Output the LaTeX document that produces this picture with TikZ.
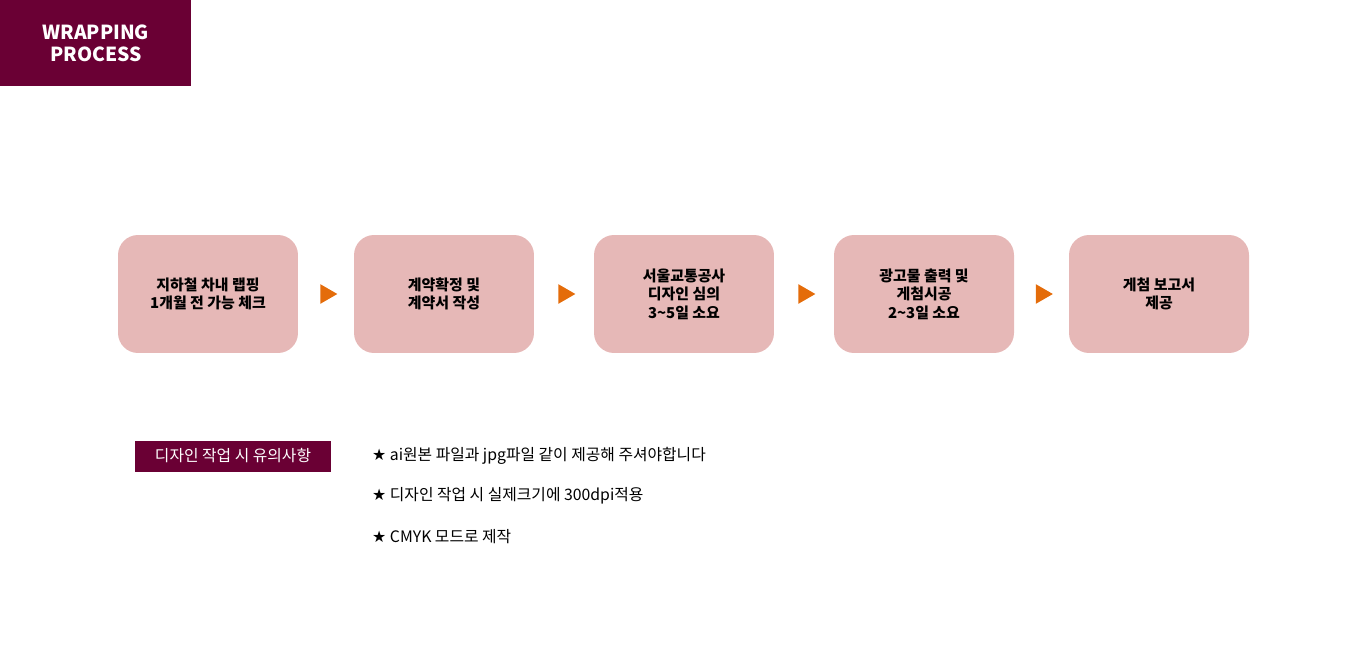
\documentclass[tikz,border=0pt]{standalone}
\usepackage{fontspec}
\setmainfont{Noto Sans CJK KR}
\newfontfamily\symfont{DejaVu Sans}
\usetikzlibrary{shapes.geometric, positioning, calc}
\definecolor{winered}{HTML}{6A0034}
\definecolor{boxpink}{HTML}{E6B8B7}
\definecolor{arroworange}{HTML}{E46C0A}

\begin{document}
\begin{tikzpicture}[
  x=0.02cm, y=-0.02cm,
  stepbox/.style={rectangle, rounded corners=0.4cm, fill=boxpink, minimum width=3.6cm, minimum height=2.36cm, align=center, font=\fontsize{8.5}{10.5}\selectfont\bfseries, inner sep=0pt},
  tri/.style={isosceles triangle, fill=arroworange, minimum height=0.34cm, minimum width=0.38cm, isosceles triangle apex angle=60, inner sep=0pt},
  note/.style={anchor=west, font=\fontsize{9}{11}\selectfont}
]
  \useasboundingbox (0,0) rectangle (1364,655);
  \node[fill=winered, text=white, minimum width=3.82cm, minimum height=1.72cm, anchor=north west, align=center, inner sep=0pt, font=\fontsize{11}{12.5}\selectfont\bfseries] (title) at (0,0) {WRAPPING\\PROCESS};

  \node[stepbox] (s1) at (208,294) {지하철 차내 랩핑\\1개월 전 가능 체크};
  \node[stepbox] (s2) at (444,294) {계약확정 및\\계약서 작성};
  \node[stepbox] (s3) at (684,294) {서울교통공사\\디자인 심의\\3\textasciitilde5일 소요};
  \node[stepbox] (s4) at (924,294) {광고물 출력 및\\게첨시공\\2\textasciitilde3일 소요};
  \node[stepbox] (s5) at (1159,294) {게첨 보고서\\제공};

  \foreach \a/\b in {s1/s2, s2/s3, s3/s4, s4/s5}
    \node[tri] at ($(\a.east)!0.5!(\b.west)$) {};

  \node[fill=winered, text=white, minimum width=3.92cm, minimum height=0.62cm, inner sep=0pt, font=\fontsize{9}{11}\selectfont] (caution) at (233,456) {디자인 작업 시 유의사항};
  \node[note] (n1) at (366,456) {{\symfont ★} ai원본 파일과 jpg파일 같이 제공해 주셔야합니다};
  \node[note] (n2) at (366,496) {{\symfont ★} 디자인 작업 시 실제크기에 300dpi적용};
  \node[note] (n3) at (366,537) {{\symfont ★} CMYK 모드로 제작};
\end{tikzpicture}
\end{document}
